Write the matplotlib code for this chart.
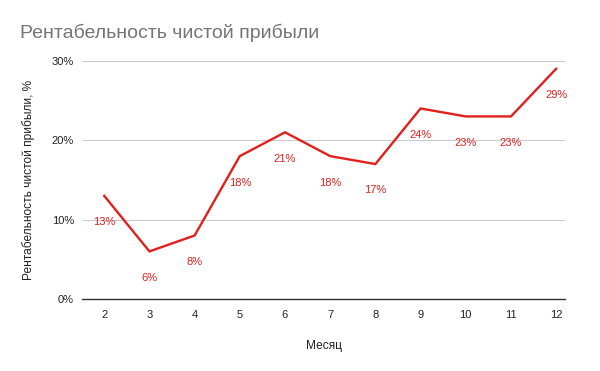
import matplotlib.pyplot as plt
from matplotlib.ticker import FuncFormatter

plt.rcParams['font.family'] = ['Liberation Sans', 'DejaVu Sans']

# данные
months = [2, 3, 4, 5, 6, 7, 8, 9, 10, 11, 12]
margin = [13, 6, 8, 18, 21, 18, 17, 24, 23, 23, 29]
y_ticks = [0, 10, 20, 30]

red = '#e0201c'

fig = plt.figure(figsize=(6, 3.71), dpi=100)
ax = fig.add_axes([0.137, 0.194, 0.805, 0.642])

ax.plot(months, margin, color=red, linewidth=1.7, solid_joinstyle='miter')
for m, v in zip(months, margin):
    ax.annotate(f'{v}%', (m, v), xytext=(0, -19), textcoords='offset points',
                ha='center', va='center', color=red, fontsize=8)

ax.set_xlim(1.513, 12.2)
ax.set_ylim(0, 30)
ax.set_xticks(months)
ax.set_yticks(y_ticks)
ax.yaxis.set_major_formatter(FuncFormatter(lambda v, p: f'{v:.0f}%'))
ax.tick_params(axis='both', length=0, labelsize=8, colors='#222222')
ax.tick_params(axis='x', pad=8)
ax.tick_params(axis='y', pad=6)
ax.grid(axis='y', color='#cccccc', linewidth=0.8)
ax.set_axisbelow(True)
for s in ['top', 'right', 'left']:
    ax.spines[s].set_visible(False)
ax.spines['bottom'].set_color('#333333')
ax.spines['bottom'].set_linewidth(1)

ax.set_xlabel('Месяц', fontsize=8.6, color='#222222', labelpad=14)
ax.set_ylabel('Рентабельность чистой прибыли, %', fontsize=8.6, color='#222222', labelpad=12)

fig.text(0.033, 0.912, 'Рентабельность чистой прибыли', fontsize=14,
         color='#757575', va='center', ha='left')

fig.savefig('out.png', dpi=100)
